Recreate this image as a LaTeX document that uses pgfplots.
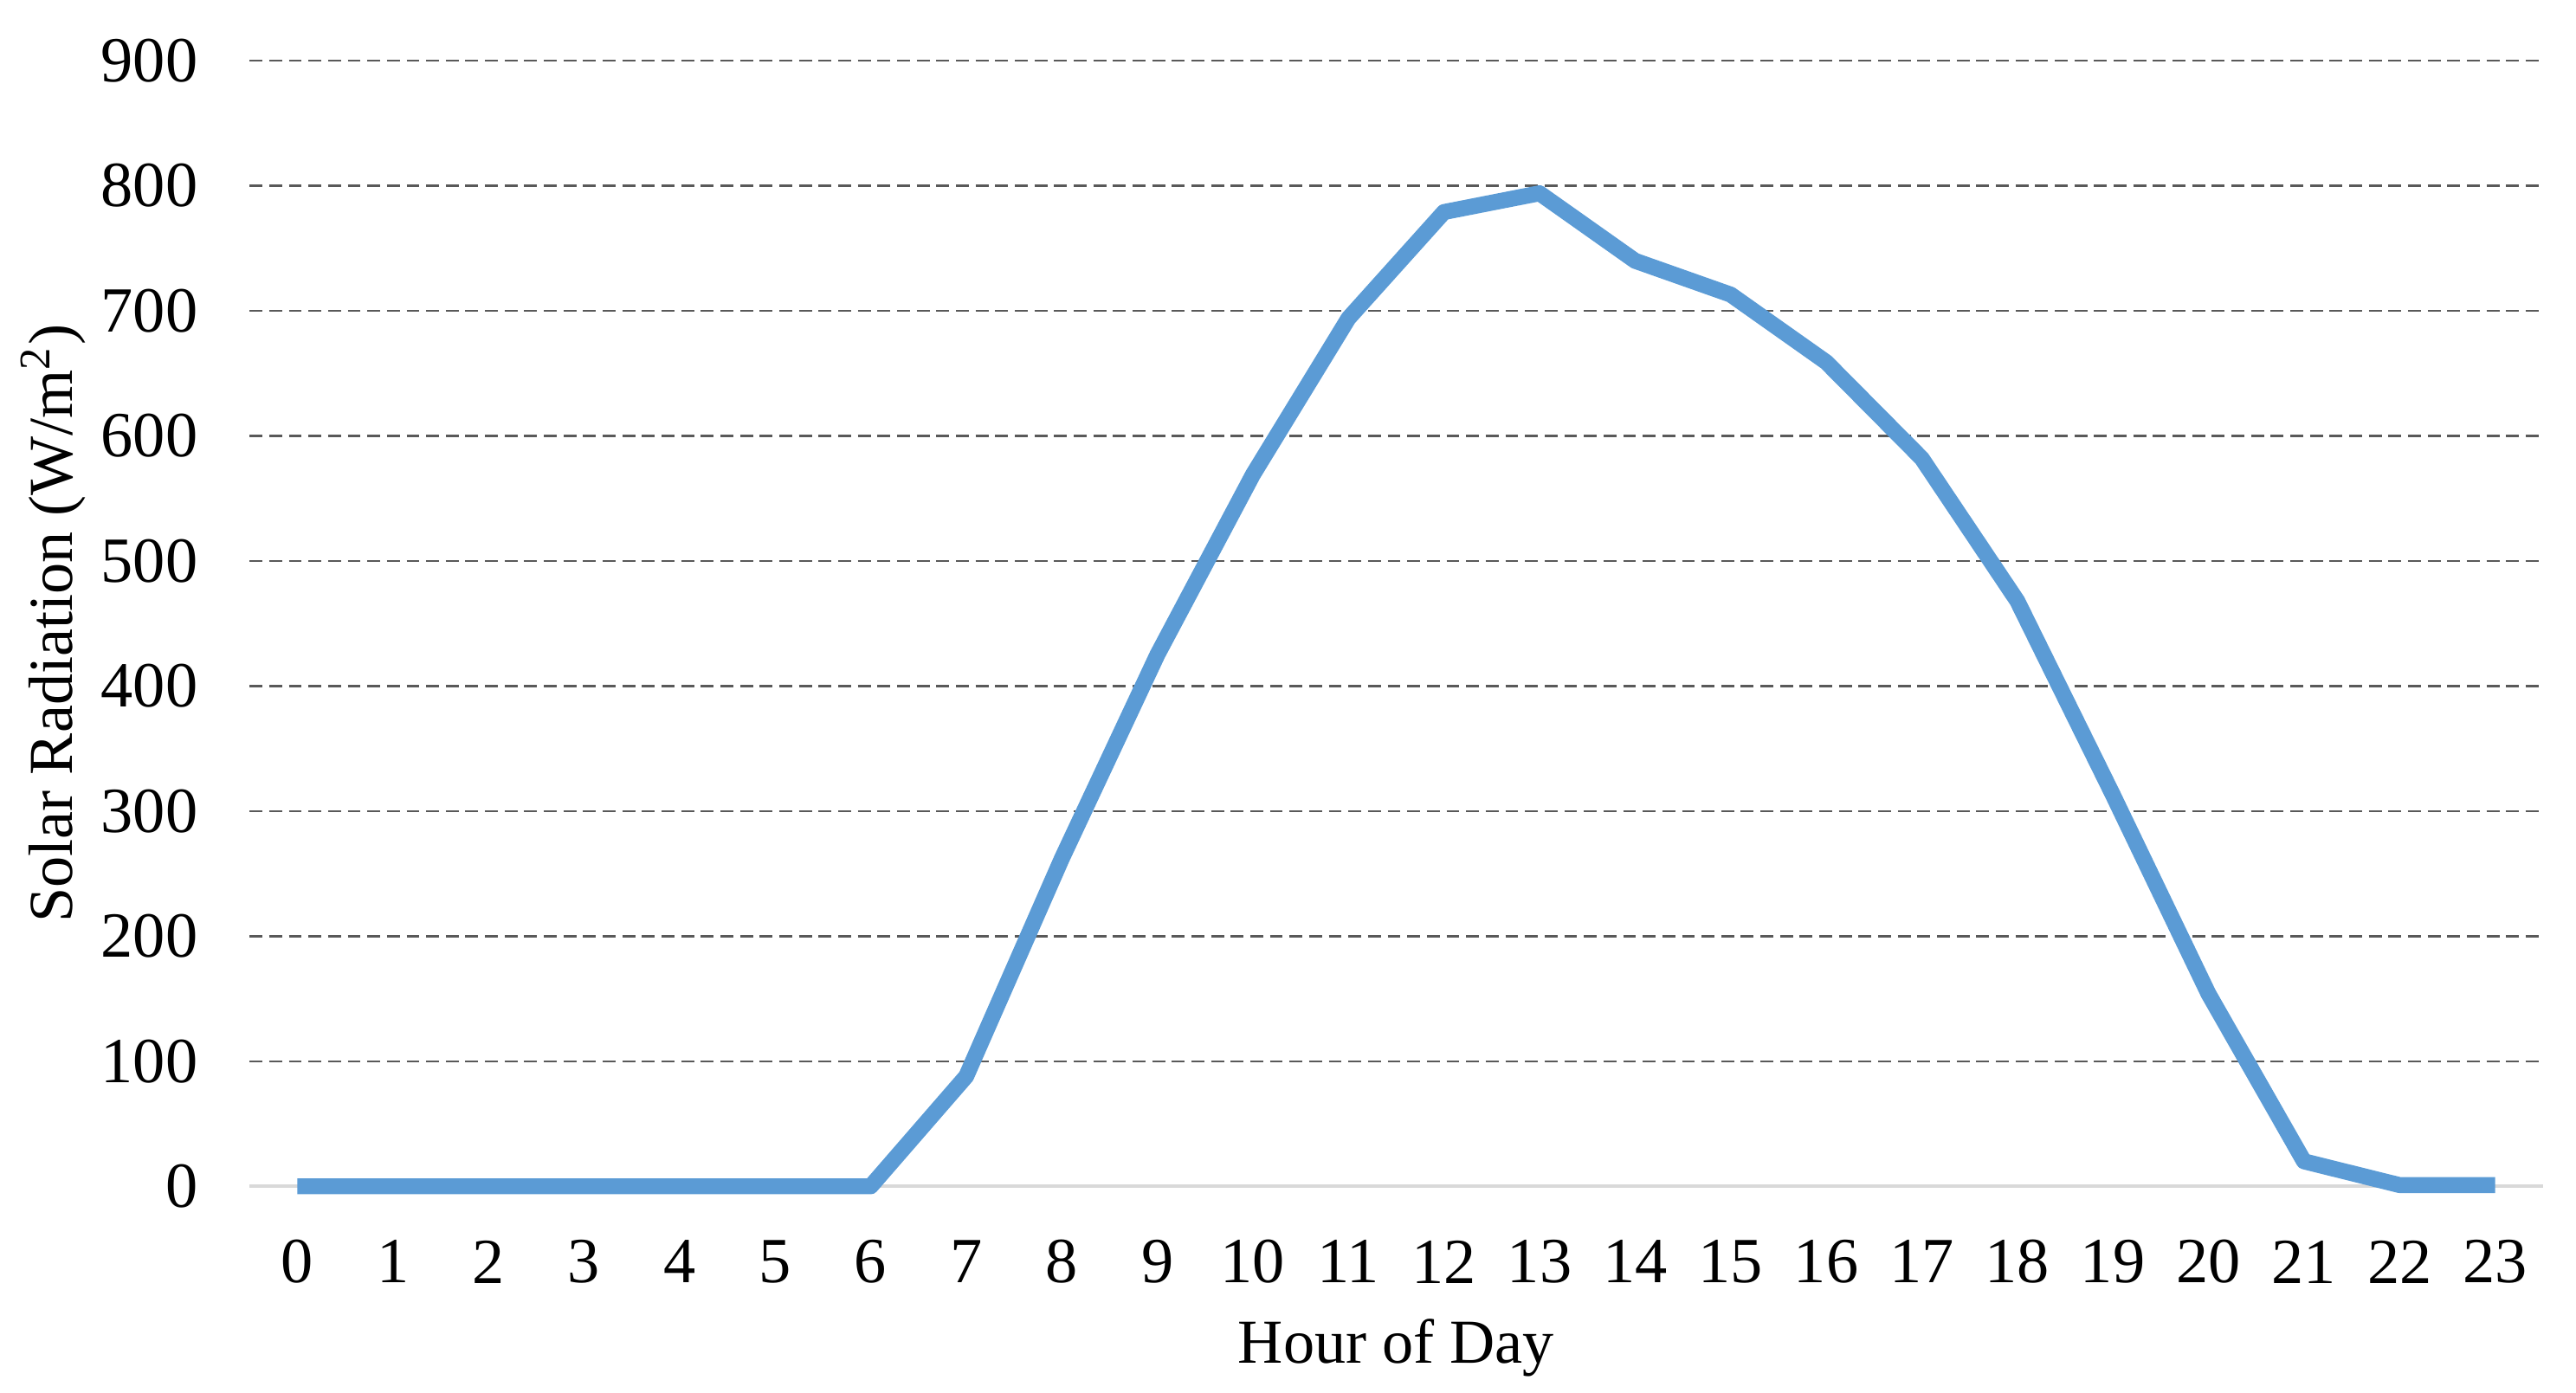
\documentclass[border=0pt]{standalone}
\usepackage{fontspec}
\setmainfont{Liberation Serif}
\usepackage{pgfplots}
\pgfplotsset{compat=1.18}
\definecolor{lineblue}{HTML}{5B9BD5}
\definecolor{gridgray}{HTML}{595959}
\definecolor{axisgray}{HTML}{D9D9D9}

\begin{document}
\fontsize{10.4}{12}\selectfont
\begin{tikzpicture}
\begin{axis}[
  scale only axis,
  width=374pt, height=183.6pt,
  xmin=-0.5, xmax=23.5,
  ymin=0, ymax=900,
  xtick={0,...,23},
  ytick={0,100,...,900},
  major tick length=0pt,
  axis x line*=bottom,
  axis y line*=left,
  x axis line style={draw=axisgray, line width=0.6pt, -},
  y axis line style={draw=none},
  ymajorgrids,
  grid style={gridgray, line width=0.35pt, dash pattern=on 2.1pt off 1.1pt},
  /pgf/number format/assume math mode=true,
  ticklabel style={font=\fontsize{10.5}{12}\selectfont},
  xticklabel style={anchor=center, yshift=-12.3pt},
  yticklabel style={anchor=east, xshift=-4.8pt},
  xlabel={Hour of Day},
  ylabel={Solar Radiation (W/m\textsuperscript{2})},
  label style={font=\fontsize{10.2}{12}\selectfont, inner sep=0pt},
  xlabel style={at={(axis description cs:0.5,0)}, anchor=center, yshift=-26.3pt},
  ylabel style={at={(axis description cs:-0.0856,0.5)}, anchor=center, rotate=0},
  clip=false,
]
\addplot[lineblue, line width=2.6pt, line join=round, mark=none] coordinates {
  (0,0) (1,0) (2,0) (3,0) (4,0) (5,0) (6,0)
  (7,88) (8,262) (9,425) (10,569) (11,694) (12,779) (13,794)
  (14,740) (15,713) (16,659) (17,582) (18,468) (19,313) (20,154)
  (21,20) (22,1) (23,1)
};
\coordinate (sw) at (rel axis cs:0,0);
\coordinate (ne) at (rel axis cs:1,1);
\end{axis}
\path (sw) ++(-40.7pt,-33.6pt) coordinate (bsw);
\path (ne) ++(5.4pt,9.9pt) coordinate (bne);
\path[use as bounding box] (bsw) rectangle (bne);
\end{tikzpicture}
\end{document}
